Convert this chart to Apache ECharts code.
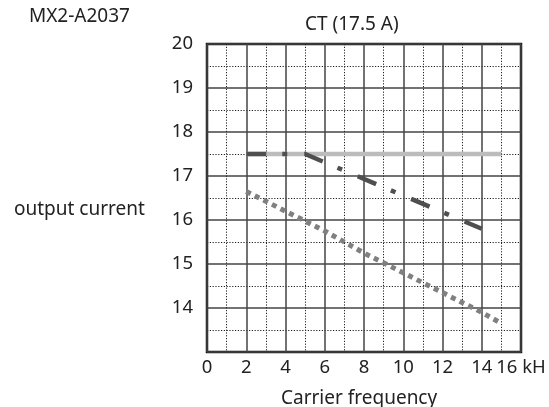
<!DOCTYPE html>
<html>
<head>
<meta charset="utf-8">
<script src="https://cdn.jsdelivr.net/npm/echarts@6/dist/echarts.min.js"></script>
<style>
html,body{margin:0;padding:0;background:#fff;}
#chart{width:549px;height:407px;}
</style>
</head>
<body>
<div id="chart"></div>
<script>
// Data
const ctFlat = [[2, 17.5], [15, 17.5]];
const ctDerate = [[2, 17.5], [5, 17.5], [14, 15.8]];
const ctDotted = [[2, 16.65], [4, 16.2], [6, 15.75], [8, 15.25], [10, 14.8], [12, 14.35], [14, 13.9], [15, 13.65]];
const xTicks = [0, 2, 4, 6, 8, 10, 12, 14, 16];
const yTicks = [14, 15, 16, 17, 18, 19, 20];

const FONT = '"Noto Sans", sans-serif';
const chart = echarts.init(document.getElementById('chart'), null, {renderer: 'canvas'});
chart.setOption({
  animation: false,
  backgroundColor: '#fff',
  title: [
    {text: 'MX2-A2037', left: 24, top: 2, textStyle: {fontFamily: FONT, fontSize: 19, fontWeight: 'normal', color: '#222'}},
    {text: 'CT (17.5 A)', left: 300, top: 10, textStyle: {fontFamily: FONT, fontSize: 19, fontWeight: 'normal', color: '#222'}},
    {text: 'output current', left: 9, top: 195, textStyle: {fontFamily: FONT, fontSize: 19, fontWeight: 'normal', color: '#222'}},
    {text: 'Carrier frequency', left: 276, top: 384, textStyle: {fontFamily: FONT, fontSize: 19, fontWeight: 'normal', color: '#222'}}
  ],
  grid: {left: 207, right: 28, top: 44, bottom: 55, show: true, borderColor: '#111', borderWidth: 2.5, backgroundColor: 'transparent'},
  xAxis: {
    type: 'value', min: 0, max: 16, interval: 2,
    axisLine: {show: false}, axisTick: {show: false},
    axisLabel: {
      fontFamily: FONT, fontSize: 18.5, color: '#222', margin: 6,
      formatter: v => xTicks.includes(v) ? (v === 16 ? '16 kH' : String(v)) : ''
    },
    splitLine: {show: true, lineStyle: {color: '#444', width: 1.5}},
    minorTick: {show: false, splitNumber: 2},
    minorSplitLine: {show: true, lineStyle: {color: '#222', width: 1, type: [1.2, 1.6]}}
  },
  yAxis: {
    type: 'value', min: 13, max: 20, interval: 1,
    axisLine: {show: false}, axisTick: {show: false},
    axisLabel: {
      fontFamily: FONT, fontSize: 18.5, color: '#222', margin: 14,
      formatter: v => yTicks.includes(v) ? String(v) : ''
    },
    splitLine: {show: true, lineStyle: {color: '#444', width: 1.5}},
    minorTick: {show: false, splitNumber: 2},
    minorSplitLine: {show: true, lineStyle: {color: '#222', width: 1, type: [1.2, 1.6]}}
  },
  series: [
    {type: 'line', data: ctFlat, symbol: 'none', z: 2,
     lineStyle: {color: '#bcbcbc', width: 4.5, cap: 'butt'}},
    {type: 'line', data: ctDotted, symbol: 'none', z: 3,
     lineStyle: {color: '#808080', width: 5, type: [5, 4.6], cap: 'butt'}},
    {type: 'line', data: ctDerate, symbol: 'none', z: 4,
     lineStyle: {color: '#4f4f4f', width: 4.5, type: [20, 16, 5, 17], cap: 'butt'}}
  ]
});
</script>
</body>
</html>
